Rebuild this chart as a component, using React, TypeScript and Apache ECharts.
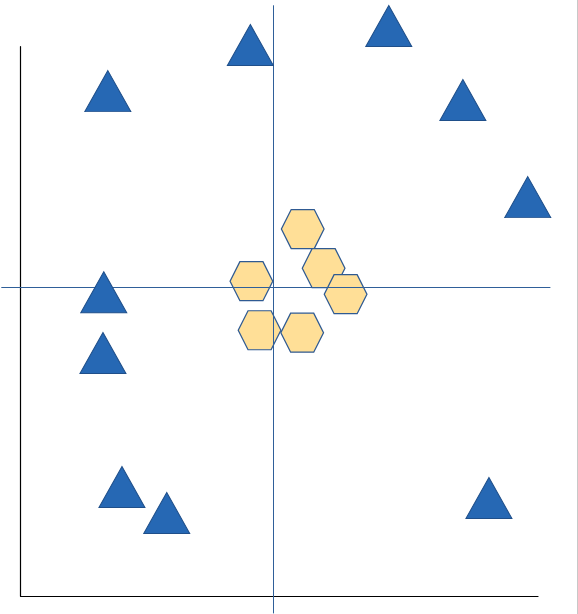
import React, { useEffect, useRef } from "react";
import * as echarts from "echarts";

// Triangle markers: [x, y]
const triangleX = [-0.84, -6.09, -6.24, -6.27, -5.57, -3.92, 4.26, 6.99, 9.38, 7.95];
const triangleY = [8.95, 7.25, -0.17, -2.41, -7.35, -8.31, 9.65, 6.92, 3.34, -7.76];

// Hexagon markers: [x, y]
const hexagonX = [1.09, 1.86, 2.67, -0.8, -0.5, 1.07];
const hexagonY = [2.16, 0.72, -0.24, 0.24, -1.57, -1.66];

const hexPath = "path://M0,50 L23,0 L77,0 L100,50 L77,100 L23,100 Z";

export default function App() {
  const ref = useRef<HTMLDivElement>(null);
  useEffect(() => {
    if (!ref.current) return;
    const chart = echarts.init(ref.current, undefined, { renderer: "svg" });
    const tri = triangleX.map((x, i) => [x, triangleY[i]]);
    const hex = hexagonX.map((x, i) => [x, hexagonY[i]]);
    chart.setOption({
      animation: false,
      backgroundColor: "#ffffff",
      grid: [
        { left: 1.7, top: 5.7, width: 548.3, height: 607.3 },
        { left: 20.5, top: 46.7, width: 517.5, height: 549.3 },
      ],
      xAxis: [
        {
          type: "value",
          gridIndex: 0,
          min: -10,
          max: 10.2,
          z: 3,
          axisLine: { show: true, onZero: true, lineStyle: { color: "#2f5f99", width: 1 } },
          axisTick: { show: false },
          axisLabel: { show: false },
          splitLine: { show: false },
        },
        {
          type: "value",
          gridIndex: 1,
          min: 0,
          max: 1,
          position: "bottom",
          z: 1,
          axisLine: { show: true, onZero: false, lineStyle: { color: "#000000", width: 1.2 } },
          axisTick: { show: false },
          axisLabel: { show: false },
          splitLine: { show: false },
        },
      ],
      yAxis: [
        {
          type: "value",
          gridIndex: 0,
          min: -12,
          max: 10.4,
          z: 3,
          axisLine: { show: true, onZero: true, lineStyle: { color: "#2f5f99", width: 1 } },
          axisTick: { show: false },
          axisLabel: { show: false },
          splitLine: { show: false },
        },
        {
          type: "value",
          gridIndex: 1,
          min: 0,
          max: 1,
          position: "left",
          z: 1,
          axisLine: { show: true, onZero: false, lineStyle: { color: "#000000", width: 1.2 } },
          axisTick: { show: false },
          axisLabel: { show: false },
          splitLine: { show: false },
        },
      ],
      graphic: [
        {
          type: "line",
          shape: { x1: 577.5, y1: 0, x2: 577.5, y2: 614 },
          style: { stroke: "#c8c8c8", lineWidth: 1 },
          silent: true,
        },
      ],
      series: [
        {
          type: "scatter",
          xAxisIndex: 0,
          yAxisIndex: 0,
          z: 1,
          symbol: hexPath,
          symbolSize: [42.7, 39],
          itemStyle: { color: "#ffdf97", borderColor: "#2f5a92", borderWidth: 1.2, opacity: 1 },
          emphasis: { disabled: true },
          data: hex,
        },
        {
          type: "scatter",
          xAxisIndex: 0,
          yAxisIndex: 0,
          z: 5,
          symbol: "triangle",
          symbolSize: [46, 41],
          itemStyle: { color: "#2668b4", borderColor: "#1f4f8a", borderWidth: 1, opacity: 1 },
          emphasis: { disabled: true },
          data: tri,
        },
      ],
    });
    return () => chart.dispose();
  }, []);
  return (
    <div
      ref={ref}
      style={{ position: "absolute", left: 0, top: 0, width: 578, height: 614 }}
    />
  );
}
